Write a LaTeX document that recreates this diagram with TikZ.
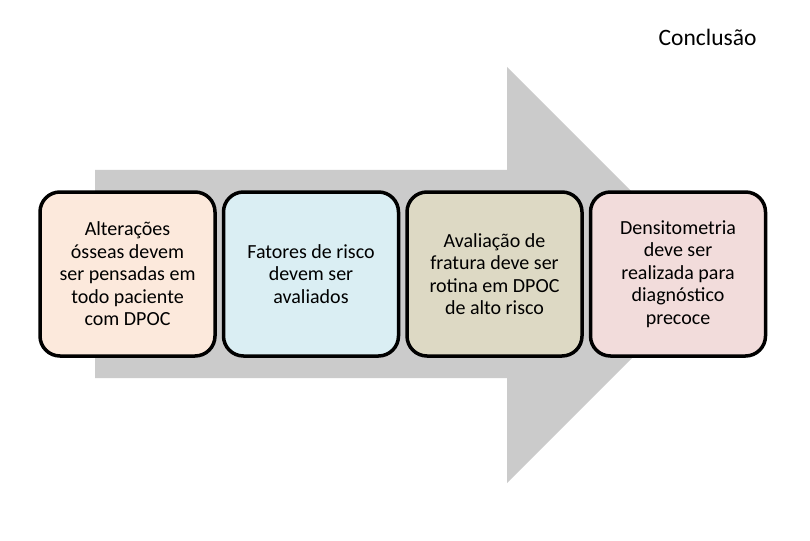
\documentclass[tikz,border=0pt]{standalone}
\usepackage{fontspec}
\setmainfont{Carlito}
\usetikzlibrary{positioning}
\definecolor{seta}{HTML}{CBCBCB}
\definecolor{pele}{HTML}{FCE9DC}
\definecolor{azul}{HTML}{DAEEF3}
\definecolor{bege}{HTML}{DDD9C4}
\definecolor{rosa}{HTML}{F2DCDB}
\tikzset{
  etapa/.style={rectangle, rounded corners=20pt, draw, line width=3.5pt,
                align=center, font=\fontsize{20}{22.5}\selectfont,
                minimum width=175pt, minimum height=164pt, inner sep=2pt},
  titulo/.style={font=\fontsize{23.5}{28}\selectfont, anchor=base east}
}

\begin{document}
\begin{tikzpicture}[x=1pt, y=-1pt, node distance=5pt]
  \useasboundingbox (0,0) rectangle (810,540);
  % seta de fundo
  \fill[seta] (95,170) -- (507,170) -- (507,67) -- (715,275) -- (507,483)
    -- (507,378) -- (95,378) -- cycle;
  \node[titulo] (tit) at (760,46) {Conclusão};
  \node[etapa, fill=pele] (a) at (127.5,274)
    {Alterações\\ósseas devem\\ser pensadas em\\todo paciente\\com DPOC};
  \node[etapa, fill=azul, right=of a] (b) {Fatores de risco\\devem ser\\avaliados};
  \node[etapa, fill=bege, right=of b] (c) {Avaliação de\\fratura deve ser\\rotina em DPOC\\de alto risco};
  \node[etapa, fill=rosa, right=of c] (d)
    {Densitometria\\deve ser\\realizada para\\diagnóstico\\precoce};
\end{tikzpicture}
\end{document}
